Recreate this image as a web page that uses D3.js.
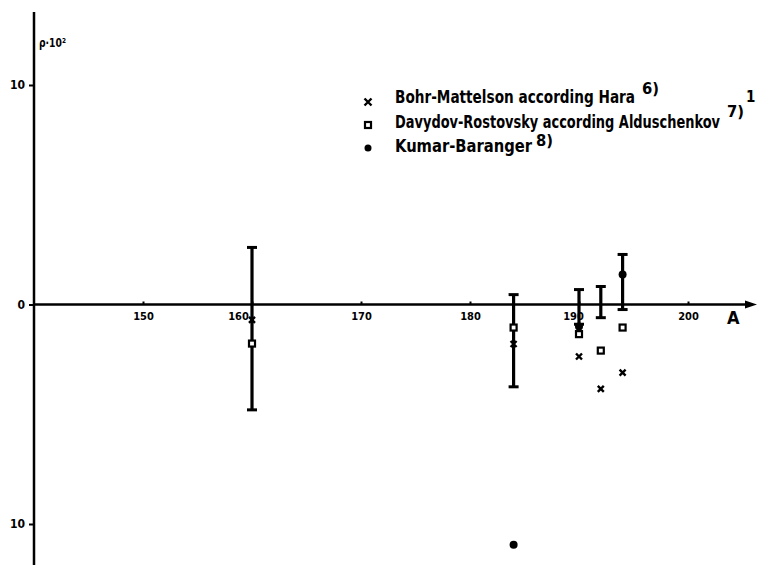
<!DOCTYPE html>
<html><head><meta charset="utf-8">
<script src="https://cdn.jsdelivr.net/npm/d3@7/dist/d3.min.js"></script>
<style>
html,body{margin:0;padding:0;background:#fff;}
svg{display:block;}
text{font-family:"DejaVu Sans Condensed","DejaVu Sans",sans-serif;font-weight:bold;fill:#000;}
</style></head>
<body>
<svg id="c" width="758" height="565"></svg>
<script>
// ---- data ----
const ticksX = [150, 160, 170, 180, 190, 200];
const ticksY = [10, 0, -10];
const tickLabelsY = ["10", "0", "10"];
// experimental values (error bars)
const expA  = [160, 184, 190, 192, 194];
const expHi = [2.6, 0.45, 0.68, 0.82, 2.28];
const expLo = [-4.8, -3.75, -0.9, -0.6, -0.23];
// Bohr-Mottelson according Hara (x)
const bohrA = [160, 184, 190, 192, 194];
const bohrV = [-0.7, -1.8, -2.37, -3.84, -3.1];
// Davydov-Rostovsky according Alduschenkov (open square)
const davA = [160, 184, 190, 192, 194];
const davV = [-1.78, -1.05, -1.35, -2.1, -1.05];
// Kumar-Baranger (dot)
const kumA = [184, 190, 194];
const kumV = [-10.95, -1.0, 1.37];
const legendLabels = ["Bohr-Mattelson according Hara", "Davydov-Rostovsky according Alduschenkov", "Kumar-Baranger"];
const legendRefs = ["6)", "7)", "8)"];

// ---- drawing ----
const svg = d3.select("#c");
const x = d3.scaleLinear().domain([140, 200]).range([34, 688]);
const y = d3.scaleLinear().domain([10, -10]).range([85, 524]);

// axes lines
svg.append("line").attr("x1", x(140)).attr("x2", 748).attr("y1", y(0)).attr("y2", y(0))
  .attr("stroke", "#000").attr("stroke-width", 2.5);
svg.append("path").attr("d", `M745,${y(0)-4} L757,${y(0)} L745,${y(0)+4} Z`).attr("fill", "#000");
svg.append("line").attr("x1", x(140)).attr("x2", x(140)).attr("y1", 12).attr("y2", 565)
  .attr("stroke", "#000").attr("stroke-width", 2.5);

const labelShift = {160: -14, 190: -6};
const gx = svg.append("g").attr("transform", `translate(0,${y(0)})`)
  .call(d3.axisBottom(x).tickValues(ticksX).tickSize(-3).tickPadding(8).tickFormat(d3.format("d")));
gx.select(".domain").remove();
gx.selectAll("line").attr("stroke", "#000").attr("stroke-width", 2);
gx.selectAll("text").attr("font-size", 11).attr("dx", d => labelShift[d] || 0)
  .style("font-family", '"DejaVu Sans Condensed",sans-serif').style("font-weight", "bold");

const gy = svg.append("g").attr("transform", `translate(${x(140)},0)`)
  .call(d3.axisLeft(y).tickValues(ticksY).tickSize(5).tickPadding(4).tickFormat((d, i) => tickLabelsY[i]));
gy.select(".domain").remove();
gy.selectAll("line").attr("stroke", "#000").attr("stroke-width", 2);
gy.selectAll("text").attr("font-size", 12)
  .style("font-family", '"DejaVu Sans Condensed",sans-serif').style("font-weight", "bold");

svg.append("text").attr("x", 39).attr("y", 47).attr("font-size", 12)
  .attr("textLength", 27).attr("lengthAdjust", "spacingAndGlyphs").text("ρ·10²");
svg.append("text").attr("x", 727).attr("y", 324).attr("font-size", 18).text("A");

// error bars
const eb = svg.append("g").attr("stroke", "#000");
expA.forEach((a, i) => {
  const cx = x(a);
  eb.append("line").attr("x1", cx).attr("x2", cx).attr("y1", y(expHi[i])).attr("y2", y(expLo[i])).attr("stroke-width", 3.2);
  [expHi[i], expLo[i]].forEach(v => {
    eb.append("line").attr("x1", cx - 5).attr("x2", cx + 5).attr("y1", y(v)).attr("y2", y(v)).attr("stroke-width", 3);
  });
});

function crossPath(cx, cy, s) {
  return `M${cx-s},${cy-s}L${cx+s},${cy+s}M${cx-s},${cy+s}L${cx+s},${cy-s}`;
}
// markers
bohrA.forEach((a, i) => {
  svg.append("path").attr("d", crossPath(x(a), y(bohrV[i]), 3)).attr("stroke", "#000").attr("stroke-width", 2.4).attr("fill", "none");
});
davA.forEach((a, i) => {
  svg.append("rect").attr("x", x(a) - 3).attr("y", y(davV[i]) - 3).attr("width", 6).attr("height", 6)
    .attr("fill", "#fff").attr("stroke", "#000").attr("stroke-width", 2.2);
});
kumA.forEach((a, i) => {
  svg.append("circle").attr("cx", x(a)).attr("cy", y(kumV[i])).attr("r", 4).attr("fill", "#000");
});

// legend
const lg = svg.append("g");
const rowY = [103, 128, 152];
const textW = [240, 325, 137];
lg.append("path").attr("d", crossPath(368, 102, 3.5)).attr("stroke", "#000").attr("stroke-width", 2.4);
lg.append("rect").attr("x", 365).attr("y", 122).attr("width", 6).attr("height", 6).attr("fill", "#fff").attr("stroke", "#000").attr("stroke-width", 2.2);
lg.append("circle").attr("cx", 368).attr("cy", 148).attr("r", 3.5).attr("fill", "#000");
legendLabels.forEach((t, i) => {
  lg.append("text").attr("x", 395).attr("y", rowY[i]).attr("font-size", 18.5)
    .attr("textLength", textW[i]).attr("lengthAdjust", "spacingAndGlyphs").text(t);
});
const refPos = [[642, 94], [727, 117], [536, 146]];
legendRefs.forEach((t, i) => {
  lg.append("text").attr("x", refPos[i][0]).attr("y", refPos[i][1]).attr("font-size", 15)
    .attr("textLength", 17).attr("lengthAdjust", "spacingAndGlyphs").text(t);
});
lg.append("text").attr("x", 746).attr("y", 102).attr("font-size", 15).text("1");
</script>
</body></html>
